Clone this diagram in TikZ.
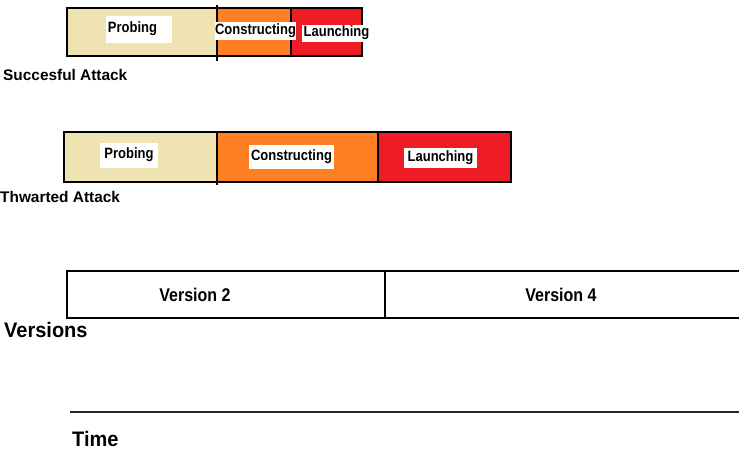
\documentclass[tikz,border=0pt]{standalone}
\usepackage{graphicx}
\usepackage{fontspec}
\setmainfont{Liberation Sans}
\definecolor{probe}{HTML}{EEE3B1}
\definecolor{build}{HTML}{FF8024}
\definecolor{launch}{HTML}{EE1C25}
% bold text, slightly stretched upward
\newcommand\tallbold[2]{\scalebox{1}[#1]{\bfseries #2}}
\begin{document}
\begin{tikzpicture}[x=1pt,y=-1pt,
  phase/.style={draw=black,line width=2.8pt},
  tag/.style={fill=white,inner sep=0pt,font=\fontsize{13}{14}\selectfont},
  label/.style={inner sep=0pt,font=\fontsize{13}{14}\selectfont},
  caption/.style={anchor=west,inner sep=0pt,font=\bfseries\fontsize{15.4}{16}\selectfont},
  bigcaption/.style={anchor=west,inner sep=0pt,font=\fontsize{20}{21}\selectfont},
  vtext/.style={inner sep=0pt,font=\fontsize{16}{17}\selectfont}]
\useasboundingbox (0,0) rectangle (739,450);

% successful attack
\fill[probe] (67,8) rectangle (217,56);
\fill[build] (217,8) rectangle (291,56);
\fill[launch] (291,8) rectangle (362,56);
\draw[phase] (67,8) rectangle (362,56);
\draw[phase] (217,5) -- (217,61);
\draw[phase] (291,8) -- (291,56);
\fill[white] (106,16) rectangle (172,43);
\node[label] (p1) at (132.5,28.5) {\tallbold{1.15}{Probing}};
\node[tag,minimum width=81pt,minimum height=18pt] (c1) at (255.5,31) {\tallbold{1.15}{Constructing}};
\node[tag,minimum width=69pt,minimum height=17pt] (l1) at (336.5,33) {\tallbold{1.15}{Launching}};
\node[caption] (s1) at (3,75) {Succesful Attack};

% thwarted attack
\fill[probe] (64,132) rectangle (217,182);
\fill[build] (217,132) rectangle (378,182);
\fill[launch] (378,132) rectangle (511,182);
\draw[phase] (64,132) rectangle (511,182);
\draw[phase] (217,132) -- (217,185);
\draw[phase] (378,132) -- (378,182);
\node[tag,minimum width=58pt,minimum height=25pt] (p2) at (129,155) {\tallbold{1.15}{Probing}};
\node[tag,minimum width=85pt,minimum height=24pt] (c2) at (291.5,156.5) {\tallbold{1.15}{Constructing}};
\node[tag,minimum width=73pt,minimum height=20pt] (l2) at (440.5,157.5) {\tallbold{1.15}{Launching}};
\node[caption] (s2) at (0,197) {Thwarted Attack};

% software versions
\draw[line width=2.2pt] (745,271) -- (67,271) -- (67,318) -- (745,318);
\draw[line width=2.2pt] (385,271) -- (385,318);
\node[vtext] (v2) at (195,294.5) {\tallbold{1.15}{Version 2}};
\node[vtext] (v4) at (561,294.5) {\tallbold{1.15}{Version 4}};
\node[bigcaption] (vv) at (4,330) {\tallbold{1.05}{Versions}};

% time axis
\coordinate (t0) at (70,412);
\coordinate (t1) at (739,412);
\draw[line width=1.1pt,black!85] (t0) -- (t1);
\node[bigcaption] (tt) at (72,438.5) {\tallbold{1.05}{Time}};
\end{tikzpicture}
\end{document}
